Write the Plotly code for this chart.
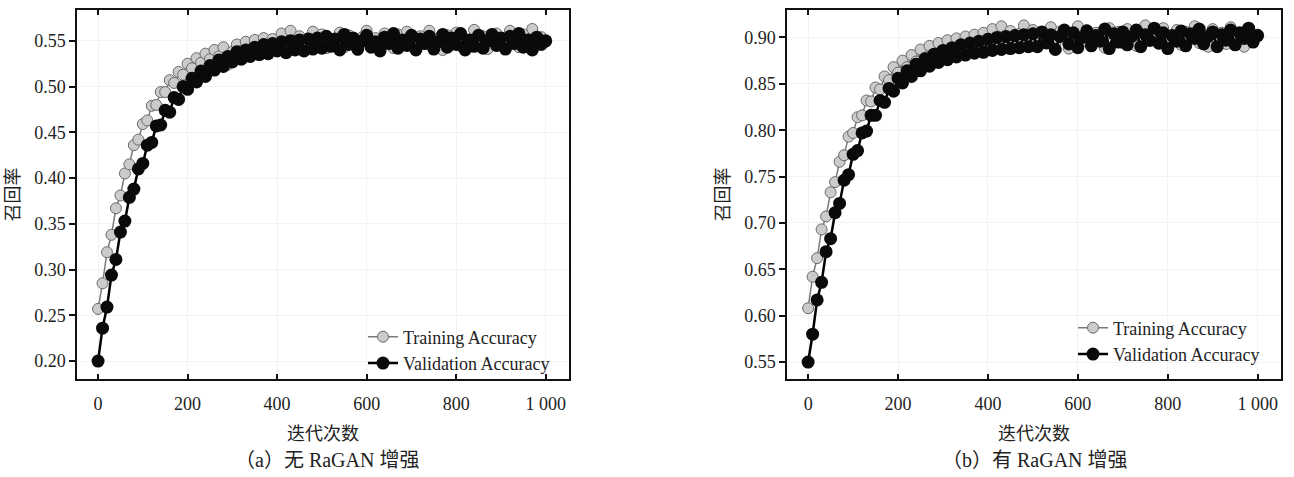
import plotly.graph_objects as go

iterations = list(range(0, 1001, 10))

train_a = [0.257, 0.285, 0.319, 0.338, 0.367, 0.381, 0.405, 0.415, 0.436, 0.442,
           0.459, 0.463, 0.479, 0.480, 0.494, 0.494, 0.507, 0.504, 0.516, 0.513,
           0.525, 0.520, 0.531, 0.526, 0.536, 0.530, 0.540, 0.533, 0.543, 0.524,
           0.538, 0.546, 0.539, 0.549, 0.541, 0.551, 0.540, 0.553, 0.542, 0.552,
           0.543, 0.558, 0.547, 0.561, 0.545, 0.555, 0.541, 0.553, 0.560, 0.546,
           0.557, 0.542, 0.552, 0.548, 0.559, 0.543, 0.556, 0.549, 0.540, 0.554,
           0.561, 0.547, 0.553, 0.544, 0.558, 0.550, 0.542, 0.557, 0.546, 0.560,
           0.551, 0.543, 0.555, 0.548, 0.561, 0.545, 0.553, 0.540, 0.556, 0.549,
           0.559, 0.544, 0.552, 0.547, 0.562, 0.546, 0.555, 0.541, 0.553, 0.558,
           0.545, 0.552, 0.561, 0.548, 0.543, 0.557, 0.550, 0.563, 0.546, 0.554,
           0.549]

val_a = [0.200, 0.236, 0.259, 0.294, 0.311, 0.341, 0.353, 0.379, 0.388, 0.410,
         0.416, 0.436, 0.439, 0.457, 0.458, 0.474, 0.472, 0.488, 0.486, 0.500,
         0.497, 0.509, 0.505, 0.517, 0.511, 0.523, 0.518, 0.529, 0.522, 0.533,
         0.527, 0.538, 0.530, 0.540, 0.533, 0.543, 0.535, 0.546, 0.536, 0.547,
         0.539, 0.549, 0.537, 0.550, 0.540, 0.551, 0.539, 0.552, 0.541, 0.553,
         0.542, 0.555, 0.544, 0.552, 0.540, 0.557, 0.546, 0.553, 0.541, 0.550,
         0.556, 0.543, 0.549, 0.539, 0.554, 0.547, 0.558, 0.542, 0.551, 0.545,
         0.556, 0.540, 0.552, 0.547, 0.555, 0.541, 0.549, 0.557, 0.543, 0.553,
         0.546, 0.558, 0.540, 0.551, 0.544, 0.556, 0.542, 0.550, 0.557, 0.545,
         0.553, 0.541, 0.555, 0.547, 0.558, 0.543, 0.551, 0.540, 0.554, 0.546,
         0.550]

train_b = [0.608, 0.642, 0.662, 0.693, 0.707, 0.733, 0.744, 0.766, 0.773, 0.793,
           0.797, 0.814, 0.816, 0.832, 0.831, 0.846, 0.844, 0.858, 0.854, 0.868,
           0.862, 0.875, 0.868, 0.881, 0.874, 0.887, 0.878, 0.891, 0.881, 0.894,
           0.884, 0.897, 0.886, 0.899, 0.887, 0.901, 0.888, 0.903, 0.890, 0.905,
           0.891, 0.909, 0.895, 0.912, 0.898, 0.907, 0.890, 0.904, 0.913, 0.897,
           0.908, 0.893, 0.905, 0.899, 0.911, 0.894, 0.906, 0.901, 0.888, 0.903,
           0.912, 0.896, 0.908, 0.892, 0.905, 0.900, 0.889, 0.910, 0.897, 0.906,
           0.894, 0.909, 0.899, 0.891, 0.907, 0.913, 0.896, 0.904, 0.893, 0.910,
           0.901, 0.895, 0.908, 0.892, 0.906, 0.899, 0.912, 0.894, 0.903, 0.890,
           0.909, 0.898, 0.905, 0.893, 0.911, 0.897, 0.904, 0.890, 0.908, 0.899,
           0.903]

val_b = [0.550, 0.580, 0.617, 0.636, 0.669, 0.683, 0.711, 0.721, 0.746, 0.752,
         0.774, 0.778, 0.797, 0.799, 0.816, 0.816, 0.832, 0.830, 0.845, 0.842,
         0.856, 0.851, 0.864, 0.858, 0.871, 0.864, 0.877, 0.869, 0.882, 0.873,
         0.886, 0.876, 0.889, 0.879, 0.892, 0.881, 0.894, 0.883, 0.896, 0.884,
         0.898, 0.886, 0.900, 0.887, 0.901, 0.888, 0.902, 0.889, 0.903, 0.890,
         0.904, 0.890, 0.906, 0.894, 0.903, 0.887, 0.901, 0.908, 0.893, 0.905,
         0.889, 0.900, 0.907, 0.891, 0.902, 0.896, 0.909, 0.888, 0.904, 0.895,
         0.906, 0.892, 0.901, 0.908, 0.890, 0.903, 0.897, 0.910, 0.894, 0.905,
         0.888, 0.902, 0.896, 0.907, 0.891, 0.904, 0.899, 0.909, 0.893, 0.901,
         0.906, 0.890, 0.903, 0.897, 0.908, 0.892, 0.905, 0.899, 0.910, 0.895,
         0.902]

x_tickvals = [0, 200, 400, 600, 800, 1000]
x_ticktext = ["0", "200", "400", "600", "800", "1 000"]
y_ticks_a = [0.20, 0.25, 0.30, 0.35, 0.40, 0.45, 0.50, 0.55]
y_ticks_b = [0.55, 0.60, 0.65, 0.70, 0.75, 0.80, 0.85, 0.90]

FONT = "Liberation Serif, Times New Roman, Noto Sans CJK SC, serif"
TXT = "#222222"

train_style = dict(mode="lines+markers",
                   line=dict(color="#7a7a7a", width=1.5),
                   marker=dict(size=11, color="#cbcbcb", line=dict(color="#6a6a6a", width=1)))
val_style = dict(mode="lines+markers",
                 line=dict(color="#000000", width=2.5),
                 marker=dict(size=13, color="#0a0a0a", line=dict(color="#000000", width=0)))

fig = go.Figure()
fig.add_trace(go.Scatter(x=iterations, y=train_a, name="Training Accuracy",
                         xaxis="x", yaxis="y", legend="legend", **train_style))
fig.add_trace(go.Scatter(x=iterations, y=val_a, name="Validation Accuracy",
                         xaxis="x", yaxis="y", legend="legend", **val_style))
fig.add_trace(go.Scatter(x=iterations, y=train_b, name="Training Accuracy",
                         xaxis="x2", yaxis="y2", legend="legend2", **train_style))
fig.add_trace(go.Scatter(x=iterations, y=val_b, name="Validation Accuracy",
                         xaxis="x2", yaxis="y2", legend="legend2", **val_style))

W, H = 1294, 477
ydom = [(H - 379) / H, (H - 10) / H]

def xaxis(dom, anchor):
    return dict(domain=dom, anchor=anchor, range=[-47, 1052], automargin=False,
                tickvals=x_tickvals, ticktext=x_ticktext,
                ticks="inside", ticklen=5, tickwidth=1.5, tickcolor="#111",
                showline=True, linecolor="#111", linewidth=1.5, mirror="ticks",
                showgrid=True, gridcolor="#f3f3f3", gridwidth=1, zeroline=False,
                ticklabelstandoff=8,
                tickfont=dict(family=FONT, size=18, color=TXT),
                title=dict(text="迭代次数", standoff=14,
                           font=dict(family=FONT, size=18, color=TXT)))

def yaxis(dom, anchor, rng, tv):
    return dict(domain=dom, anchor=anchor, range=rng, automargin=False,
                tickvals=tv, tickformat=".2f",
                ticks="outside", ticklen=6, tickwidth=1.5, tickcolor="#111",
                showline=True, linecolor="#111", linewidth=1.5, mirror=True,
                showgrid=True, gridcolor="#f3f3f3", gridwidth=1, zeroline=False,
                tickfont=dict(family=FONT, size=18, color=TXT),
                title=dict(text="召回率", standoff=10,
                           font=dict(family=FONT, size=18, color=TXT)))

fig.update_layout(
    width=W, height=H,
    margin=dict(l=0, r=0, t=0, b=0),
    paper_bgcolor="white", plot_bgcolor="white",
    font=dict(family=FONT, size=18, color=TXT),
    xaxis=xaxis([77 / W, 569 / W], "y"),
    yaxis=yaxis(ydom, "x", [0.1804, 0.5837], y_ticks_a),
    xaxis2=xaxis([787 / W, 1281 / W], "y2"),
    yaxis2=yaxis(ydom, "x2", [0.5317, 0.9296], y_ticks_b),
    legend=dict(x=363 / W, xanchor="left", y=(H - 350) / H, yanchor="middle",
                bgcolor="rgba(255,255,255,0)", borderwidth=0,
                font=dict(family=FONT, size=18, color=TXT)),
    legend2=dict(x=1073 / W, xanchor="left", y=(H - 341) / H, yanchor="middle",
                 bgcolor="rgba(255,255,255,0)", borderwidth=0,
                 font=dict(family=FONT, size=18, color=TXT)),
    annotations=[
        dict(text="（a）无 RaGAN 增强", x=327 / W, y=(H - 460) / H, xref="paper", yref="paper",
             showarrow=False, xanchor="center", yanchor="middle",
             font=dict(family=FONT, size=20, color=TXT)),
        dict(text="（b）有 RaGAN 增强", x=1035 / W, y=(H - 460) / H, xref="paper", yref="paper",
             showarrow=False, xanchor="center", yanchor="middle",
             font=dict(family=FONT, size=20, color=TXT)),
    ],
)

fig.write_html("out.html", config={"displayModeBar": False},
               post_script="document.body.style.margin='0px';")
